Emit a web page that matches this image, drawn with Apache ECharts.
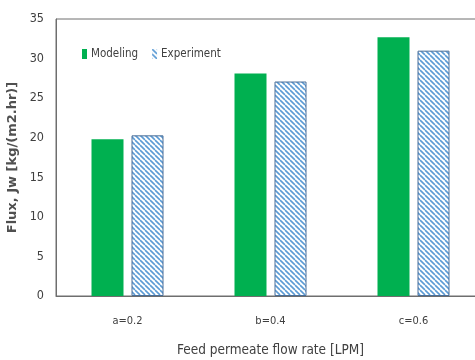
<!DOCTYPE html>
<html><head><meta charset="utf-8">
<script src="https://cdn.jsdelivr.net/npm/echarts@6/dist/echarts.min.js"></script>
<style>html,body{margin:0;padding:0;background:#fff}#c{width:475px;height:360px}</style>
</head><body><div id="c"></div>
<script>
const categories = ['a=0.2', 'b=0.4', 'c=0.6'];
const modeling = [19.8, 28.1, 32.7];
const experiment = [20.3, 27.1, 31.0];
const yTicks = [0, 5, 10, 15, 20, 25, 30, 35];

function hatch() {
  const c = document.createElement('canvas');
  c.width = 5; c.height = 5;
  const g = c.getContext('2d');
  g.fillStyle = '#ffffff'; g.fillRect(0, 0, 5, 5);
  g.strokeStyle = '#5b9bd5'; g.lineWidth = 1.6;
  for (let k = -5; k <= 5; k += 5) {
    g.beginPath(); g.moveTo(k, 0); g.lineTo(k + 5, 5); g.stroke();
  }
  return c;
}
const pat = { image: hatch(), repeat: 'repeat' };
const font = '"DejaVu Sans Condensed","Liberation Sans Narrow","Liberation Sans",sans-serif';
const chart = echarts.init(document.getElementById('c'));
chart.setOption({
  animation: false,
  grid: { left: 56, top: 19, right: -10, bottom: 64, show: true, borderColor: '#6e6e6e', borderWidth: 1,
          outerBoundsMode: 'none', containLabel: false },
  legend: {
    left: 77, top: 43, itemWidth: 5, itemHeight: 10, itemGap: 14,
    textStyle: { fontFamily: font, fontSize: 11.5, color: '#404040', padding: [0, 0, 0, -1] },
    data: [{ name: 'Modeling', icon: 'rect' },
           { name: 'Experiment', icon: 'rect', itemStyle: { borderWidth: 0 } }]
  },
  xAxis: {
    type: 'category', data: categories,
    axisLine: { lineStyle: { color: '#6e6e6e', width: 1 } },
    axisTick: { show: false },
    axisLabel: { margin: 20, fontFamily: font, fontSize: 11, color: '#404040' },
    name: 'Feed permeate flow rate [LPM]', nameLocation: 'middle', nameGap: 47,
    nameTextStyle: { fontFamily: font, fontSize: 13.5, color: '#404040' }
  },
  yAxis: {
    type: 'value', min: yTicks[0], max: yTicks[yTicks.length - 1], interval: 5,
    splitLine: { show: false },
    axisLine: { show: true, lineStyle: { color: '#6e6e6e', width: 1 } },
    axisTick: { show: false },
    axisLabel: { margin: 12, fontFamily: font, fontSize: 12.5, color: '#404040' },
    name: 'Flux, Jw [kg/(m2.hr)]', nameLocation: 'middle', nameGap: 33,
    nameTextStyle: { fontFamily: '"DejaVu Sans",sans-serif', fontWeight: 'bold', fontSize: 13, color: '#505050' }
  },
  series: [
    { name: 'Modeling', type: 'bar', data: modeling, barWidth: 32, barGap: '25%',
      itemStyle: { color: '#00b050' } },
    { name: 'Experiment', type: 'bar', data: experiment, barWidth: 32,
      itemStyle: { color: pat, borderColor: '#4a6f99', borderWidth: 1 } }
  ]
});
</script></body></html>
